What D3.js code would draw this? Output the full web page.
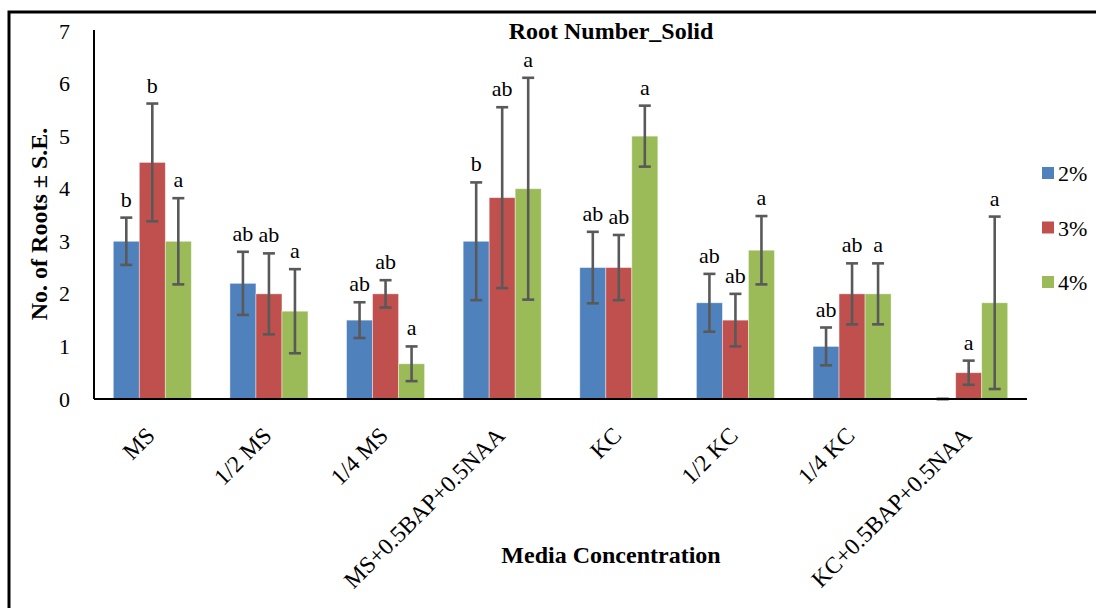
<!DOCTYPE html>
<html>
<head>
<meta charset="utf-8">
<script src="https://cdn.jsdelivr.net/npm/d3@7"></script>
<style>
  html, body { margin: 0; padding: 0; background: #fff; }
  svg { display: block; font-family: "Liberation Serif", "Times New Roman", serif; }
</style>
</head>
<body>
<svg id="chart" width="1096" height="608"></svg>
<script>
// Root number on solid media: mean ± S.E. for three sucrose levels
const categories = ["MS", "1/2 MS", "1/4 MS", "MS+0.5BAP+0.5NAA", "KC", "1/2 KC", "1/4 KC", "KC+0.5BAP+0.5NAA"];
const seriesNames = ["2%", "3%", "4%"];
const seriesColors = ["#4F81BD", "#C0504D", "#9BBB59"];

const mean2 = [3.0, 2.2, 1.5, 3.0, 2.5, 1.83, 1.0, 0];
const mean3 = [4.5, 2.0, 2.0, 3.83, 2.5, 1.5, 2.0, 0.5];
const mean4 = [3.0, 1.67, 0.67, 4.0, 5.0, 2.83, 2.0, 1.83];

const se2 = [0.45, 0.6, 0.34, 1.12, 0.68, 0.55, 0.36, 0];
const se3 = [1.12, 0.77, 0.26, 1.72, 0.62, 0.5, 0.58, 0.23];
const se4 = [0.82, 0.8, 0.33, 2.11, 0.58, 0.65, 0.58, 1.64];

const letters2 = ["b", "ab", "ab", "b", "ab", "ab", "ab", ""];
const letters3 = ["b", "ab", "ab", "ab", "ab", "ab", "ab", "a"];
const letters4 = ["a", "a", "a", "a", "a", "a", "a", "a"];

const yTicks = [0, 1, 2, 3, 4, 5, 6, 7];

const chartTitle = "Root Number_Solid";
const xTitle = "Media Concentration";
const yTitle = "No. of Roots \u00B1 S.E.";

const means = [mean2, mean3, mean4];
const errs = [se2, se3, se4];
const letters = [letters2, letters3, letters4];

const svg = d3.select("#chart");

// outer frame (left and top edges)
svg.append("path")
  .attr("d", "M9,620 L9,12 L1110,12")
  .attr("fill", "none")
  .attr("stroke", "#000")
  .attr("stroke-width", 3);

const plot = { left: 94, right: 1027, top: 31, bottom: 399 };

const x0 = d3.scaleBand().domain(categories).range([plot.left, plot.right]).padding(0);
const x1 = d3.scaleBand().domain(seriesNames).range([0, x0.bandwidth()])
  .paddingInner(0).paddingOuter(0.742);
const y = d3.scaleLinear().domain([0, 7]).range([plot.bottom, plot.top]);

// y axis: labels only plus the spine
const yAxis = d3.axisLeft(y).tickValues(yTicks).tickSize(0).tickPadding(24).tickFormat(d3.format("d"));
const gy = svg.append("g").attr("transform", `translate(${plot.left},0)`).call(yAxis);
gy.select(".domain").attr("stroke", "#000").attr("stroke-width", 2).attr("d", `M0,${y(7) - 1}V${plot.bottom}`);
gy.selectAll("text").attr("font-size", 22).attr("fill", "#000")
  .attr("font-family", "'Liberation Serif', serif").attr("dy", "0.32em");

// bars
const groups = svg.append("g").selectAll("g")
  .data(categories)
  .join("g")
  .attr("transform", d => `translate(${x0(d)},0)`);

seriesNames.forEach((s, si) => {
  groups.append("rect")
    .attr("x", x1(s))
    .attr("width", x1.bandwidth())
    .attr("y", (d, i) => y(means[si][i]))
    .attr("height", (d, i) => y(0) - y(means[si][i]))
    .attr("fill", seriesColors[si])
    .attr("stroke", "#fff")
    .attr("stroke-opacity", 0.5)
    .attr("stroke-width", 0.8);
});

// x axis baseline
svg.append("line")
  .attr("x1", plot.left).attr("x2", plot.right)
  .attr("y1", y(0)).attr("y2", y(0))
  .attr("stroke", "#000").attr("stroke-width", 2);

// error bars and significance letters
seriesNames.forEach((s, si) => {
  const cx = (d) => x1(s) + x1.bandwidth() / 2;
  const eb = groups.append("g").attr("stroke", "#595959").attr("stroke-width", 2.6);
  eb.append("line")
    .attr("x1", cx).attr("x2", cx)
    .attr("y1", (d, i) => y(means[si][i] + errs[si][i]))
    .attr("y2", (d, i) => y(means[si][i] - errs[si][i]));
  [1, -1].forEach(sign => {
    eb.append("line")
      .attr("x1", d => cx(d) - 6).attr("x2", d => cx(d) + 6)
      .attr("y1", (d, i) => y(means[si][i] + sign * errs[si][i]))
      .attr("y2", (d, i) => y(means[si][i] + sign * errs[si][i]));
  });
  groups.append("text")
    .attr("x", cx)
    .attr("y", (d, i) => y(means[si][i] + errs[si][i]) - 11)
    .attr("text-anchor", "middle")
    .attr("font-size", 22)
    .attr("fill", "#000")
    .text((d, i) => letters[si][i]);
});

// category labels, rotated
svg.append("g").selectAll("text")
  .data(categories)
  .join("text")
  .attr("transform", d => `translate(${x0(d) + x0.bandwidth() / 2 + 4},${plot.bottom + 38}) rotate(-45)`)
  .attr("text-anchor", "end")
  .attr("font-size", 23.5)
  .attr("fill", "#000")
  .text(d => d);

// titles
svg.append("text")
  .attr("x", 611).attr("y", 39)
  .attr("text-anchor", "middle")
  .attr("font-size", 24).attr("font-weight", "bold")
  .text(chartTitle);

svg.append("text")
  .attr("x", 611).attr("y", 563)
  .attr("text-anchor", "middle")
  .attr("font-size", 24).attr("font-weight", "bold")
  .text(xTitle);

svg.append("text")
  .attr("transform", "translate(47,224) rotate(-90)")
  .attr("text-anchor", "middle")
  .attr("font-size", 24).attr("font-weight", "bold")
  .text(yTitle);

// legend
const legendY = d3.scalePoint().domain(seriesNames).range([173, 282]);
const lg = svg.append("g").selectAll("g")
  .data(seriesNames)
  .join("g")
  .attr("transform", d => `translate(1042,${legendY(d)})`);
lg.append("rect")
  .attr("x", 0).attr("y", -6).attr("width", 12).attr("height", 12)
  .attr("fill", (d, i) => seriesColors[i]);
lg.append("text")
  .attr("x", 16).attr("y", 8)
  .attr("font-size", 22)
  .attr("fill", "#000")
  .text(d => d);
</script>
</body>
</html>
